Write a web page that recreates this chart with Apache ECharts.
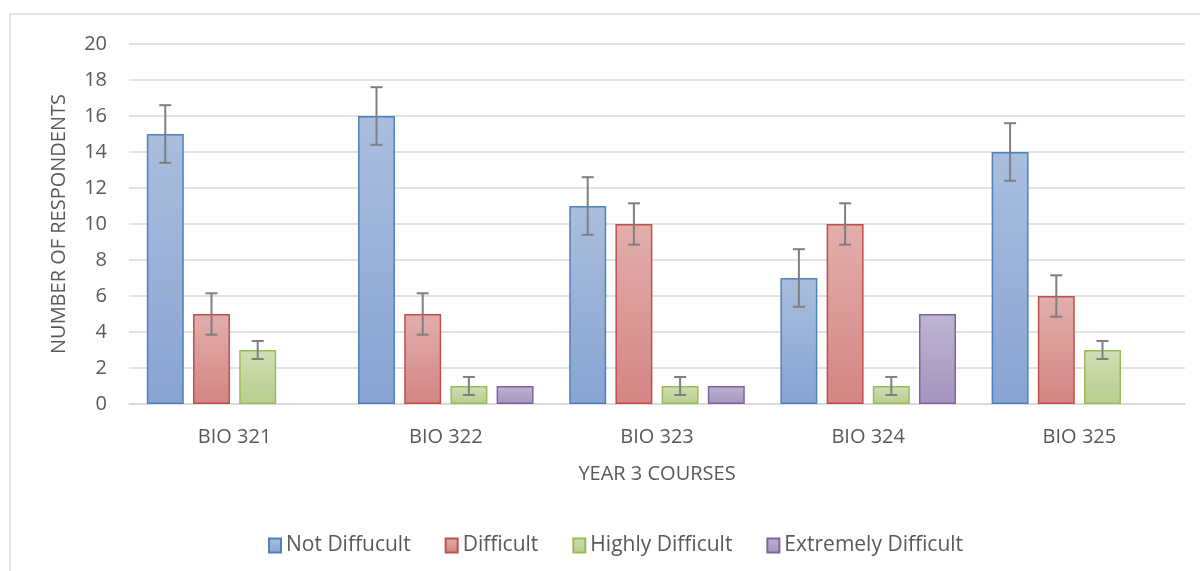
<!DOCTYPE html>
<html>
<head>
<meta charset="utf-8">
<script src="https://cdn.jsdelivr.net/npm/echarts@6/dist/echarts.min.js"></script>
<style>
  html, body { margin: 0; padding: 0; background: #fff; }
  #chart { width: 1200px; height: 571px; }
</style>
</head>
<body>
<div id="chart"></div>
<script>
const courses = ['BIO 321', 'BIO 322', 'BIO 323', 'BIO 324', 'BIO 325']
const seriesNames = ['Not Diffucult', 'Difficult', 'Highly Difficult', 'Extremely Difficult']
const notDifficult = [15, 16, 11, 7, 14]
const difficult = [5, 5, 10, 10, 6]
const highlyDifficult = [3, 1, 1, 1, 3]
const extremelyDifficult = [0, 1, 1, 5, 0]
// error bar half-sizes per series (extremely difficult has none)
const errors = [1.6, 1.15, 0.5, 0]

const values = [notDifficult, difficult, highlyDifficult, extremelyDifficult]
const colors = [
  { top: '#a9bedd', bottom: '#88a4d3', border: '#4f81bd' },
  { top: '#e2aeac', bottom: '#d48583', border: '#c0504d' },
  { top: '#d0deb5', bottom: '#b7cf8b', border: '#9bbb59' },
  { top: '#bfb4d1', bottom: '#a494c0', border: '#8064a2' },
]

const BAR_W = 0.175
const BAR_GAP = 0.25
const font = 'Open Sans'
const txt = '#595959'

const chart = echarts.init(document.getElementById('chart'))

const barSeries = seriesNames.map((name, i) => ({
  name: name,
  type: 'bar',
  barWidth: (BAR_W * 100) + '%',
  barGap: (BAR_GAP * 100) + '%',
  data: values[i].map((v) => (v === 0 ? null : v)),
  itemStyle: {
    borderColor: colors[i].border,
    borderWidth: 1.5,
    color: new echarts.graphic.LinearGradient(0, 0, 0, 1, [
      { offset: 0, color: colors[i].top },
      { offset: 1, color: colors[i].bottom },
    ]),
  },
  emphasis: { disabled: true },
}))

const errData = []
values.forEach((arr, si) => {
  if (!errors[si]) return
  arr.forEach((v, ci) => {
    if (v) errData.push([ci, v, errors[si], si])
  })
})

const errSeries = {
  type: 'custom',
  silent: true,
  z: 5,
  data: errData,
  renderItem: (params, api) => {
    const ci = api.value(0)
    const v = api.value(1)
    const e = api.value(2)
    const si = api.value(3)
    const band = api.size([1, 0])[0]
    const bw = band * BAR_W
    const total = bw * 4 + bw * BAR_GAP * 3
    const off = -total / 2 + bw / 2 + si * bw * (1 + BAR_GAP)
    const hi = api.coord([ci, v + e])
    const lo = api.coord([ci, v - e])
    const x = hi[0] + off
    const cap = 6
    const style = { stroke: '#7f7f7f', lineWidth: 2 }
    return {
      type: 'group',
      children: [
        { type: 'line', shape: { x1: x, y1: hi[1], x2: x, y2: lo[1] }, style },
        { type: 'line', shape: { x1: x - cap, y1: hi[1], x2: x + cap, y2: hi[1] }, style },
        { type: 'line', shape: { x1: x - cap, y1: lo[1], x2: x + cap, y2: lo[1] }, style },
      ],
    }
  },
}

chart.setOption({
  animation: false,
  graphic: [
    {
      type: 'rect',
      shape: { x: 10, y: 14, width: 1300, height: 700 },
      style: { fill: 'none', stroke: '#d9d9d9', lineWidth: 1.5 },
      silent: true,
    },
  ],
  grid: { left: 129, right: 15, top: 44, bottom: 167 },
  legend: {
    data: seriesNames,
    bottom: 10,
    left: 263,
    icon: 'rect',
    itemWidth: 12,
    itemHeight: 14,
    itemGap: 34,
    textStyle: { fontFamily: font, fontSize: 21, color: txt },
  },
  xAxis: {
    type: 'category',
    data: courses,
    name: 'YEAR 3 COURSES',
    nameLocation: 'middle',
    nameGap: 60,
    nameTextStyle: { fontFamily: font, fontSize: 20, color: txt },
    axisLine: { lineStyle: { color: '#d9d9d9', width: 1.5 } },
    axisTick: { show: false },
    axisLabel: { fontFamily: font, fontSize: 20, color: txt, margin: 23 },
  },
  yAxis: {
    type: 'value',
    min: 0,
    max: 20,
    interval: 2,
    name: 'NUMBER OF RESPONDENTS',
    nameLocation: 'middle',
    nameGap: 60,
    nameTextStyle: { fontFamily: font, fontSize: 20, color: txt },
    axisLine: { show: false },
    axisTick: { show: false },
    axisLabel: { fontFamily: font, fontSize: 20, color: txt, margin: 22 },
    splitLine: { lineStyle: { color: '#d9d9d9', width: 1.5 } },
  },
  series: [...barSeries, errSeries],
})
</script>
</body>
</html>
